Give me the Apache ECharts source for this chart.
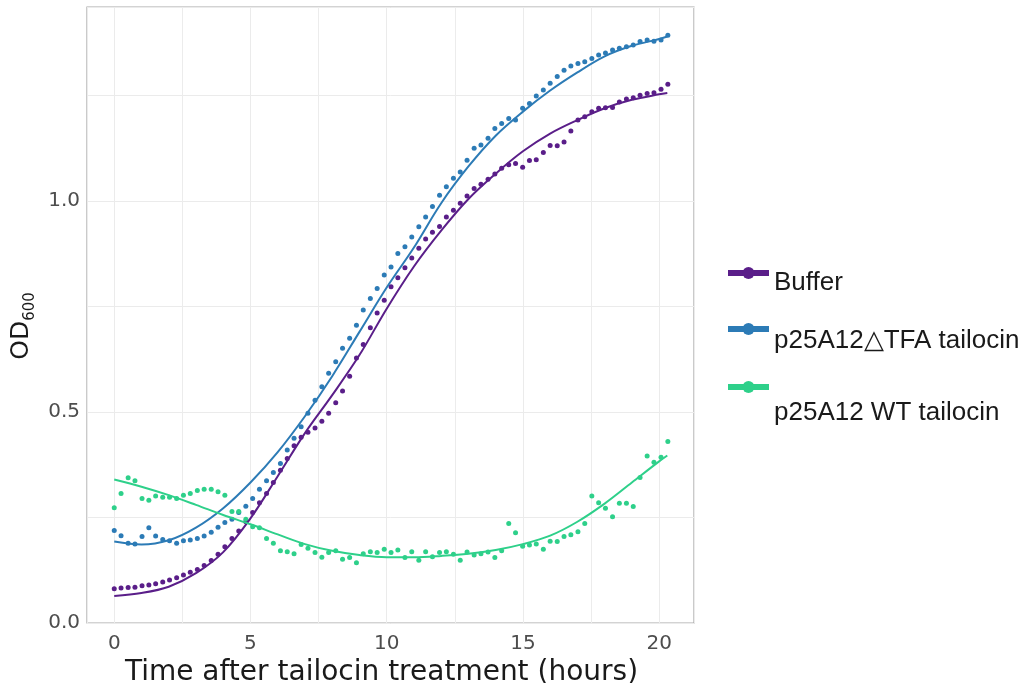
<!DOCTYPE html>
<html>
<head>
<meta charset="utf-8">
<script src="https://cdn.jsdelivr.net/npm/echarts@6/dist/echarts.min.js"></script>
<style>html,body{margin:0;padding:0;background:#fff}#c{width:1033px;height:683px}</style>
</head>
<body>
<div id="c"></div>
<script>
// Measurement times (hours)
var times = [0,0.25,0.51,0.76,1.02,1.27,1.52,1.78,2.03,2.29,2.54,2.79,3.05,3.30,3.56,3.81,4.06,4.32,4.57,4.83,
  5.08,5.33,5.59,5.84,6.10,6.35,6.60,6.86,7.11,7.37,7.62,7.87,8.13,8.38,8.64,8.89,9.14,9.40,9.65,9.91,
  10.16,10.41,10.67,10.92,11.18,11.43,11.68,11.94,12.19,12.45,12.70,12.95,13.21,13.46,13.72,13.97,14.22,14.48,14.73,14.99,
  15.24,15.49,15.75,16.00,16.26,16.51,16.76,17.02,17.27,17.53,17.78,18.03,18.29,18.54,18.80,19.05,19.30,19.56,19.81,20.07,20.32];

var bufferOD = [0.081,0.083,0.084,0.085,0.088,0.090,0.093,0.097,0.102,0.107,0.114,0.120,0.127,0.136,0.148,0.163,0.181,0.200,0.218,0.240,
  0.262,0.285,0.307,0.333,0.362,0.390,0.420,0.440,0.452,0.462,0.478,0.497,0.522,0.550,0.585,0.628,0.660,0.700,0.735,0.765,
  0.797,0.818,0.842,0.865,0.888,0.910,0.926,0.940,0.962,0.978,0.995,1.012,1.030,1.040,1.052,1.064,1.078,1.086,1.089,1.080,
  1.096,1.098,1.115,1.132,1.131,1.140,1.166,1.192,1.200,1.212,1.220,1.221,1.222,1.235,1.242,1.245,1.251,1.255,1.257,1.265,1.277];

var tfaOD = [0.219,0.207,0.189,0.187,0.205,0.226,0.206,0.198,0.195,0.189,0.195,0.197,0.200,0.206,0.215,0.227,0.238,0.246,0.262,0.277,
  0.295,0.317,0.337,0.357,0.378,0.410,0.438,0.465,0.497,0.528,0.560,0.592,0.619,0.651,0.675,0.706,0.742,0.769,0.793,0.825,
  0.844,0.876,0.892,0.915,0.939,0.962,0.987,1.014,1.034,1.054,1.069,1.097,1.125,1.133,1.149,1.172,1.184,1.196,1.192,1.220,
  1.231,1.249,1.263,1.279,1.295,1.310,1.320,1.326,1.330,1.338,1.346,1.351,1.358,1.362,1.366,1.370,1.378,1.382,1.379,1.382,1.393];

var wtOD = [0.273,0.307,0.344,0.337,0.295,0.291,0.301,0.298,0.298,0.295,0.303,0.307,0.314,0.317,0.317,0.311,0.303,0.264,0.264,0.246,
  0.228,0.226,0.200,0.189,0.171,0.169,0.164,0.186,0.177,0.167,0.156,0.167,0.171,0.151,0.155,0.143,0.164,0.169,0.167,0.175,
  0.167,0.173,0.155,0.169,0.149,0.169,0.157,0.167,0.169,0.163,0.149,0.168,0.161,0.164,0.168,0.155,0.171,0.236,0.214,0.182,
  0.185,0.187,0.175,0.194,0.193,0.205,0.209,0.216,0.236,0.301,0.285,0.272,0.252,0.284,0.284,0.276,0.345,0.396,0.381,0.393,0.430];

// Fitted curves (read at whole hours)
var fitTimes = [0,1,2,3,4,5,6,7,8,9,10,11,12,13,14,15,16,17,18,19,20,20.3];
var bufferFit = [0.064,0.071,0.086,0.118,0.168,0.248,0.348,0.450,0.540,0.635,0.745,0.845,0.930,1.005,1.065,1.118,1.160,1.192,1.220,1.240,1.253,1.256];
var tfaFit    = [0.193,0.186,0.196,0.226,0.272,0.333,0.405,0.490,0.585,0.690,0.795,0.890,0.995,1.082,1.155,1.212,1.262,1.305,1.343,1.368,1.384,1.390];
var wtFit     = [0.340,0.323,0.303,0.280,0.256,0.234,0.210,0.187,0.171,0.161,0.156,0.156,0.159,0.164,0.173,0.187,0.207,0.240,0.283,0.333,0.383,0.397];

var seriesNames = ['Buffer', 'p25A12\u25B3TFA tailocin', 'p25A12 WT tailocin'];
var xMinorBreaks = [2.5, 7.5, 12.5, 17.5];
var yLabelTicks = [0, 0.5, 1.0];

var colors = ['#5a1e89', '#2c7bb6', '#2ed08a'];

function pairs(xs, ys) { return xs.map(function (x, i) { return [x, ys[i]]; }); }

var pointsData = [bufferOD, tfaOD, wtOD];
var fitsData = [bufferFit, tfaFit, wtFit];

var series = [];
for (var k = 0; k < 3; k++) {
  series.push({
    name: seriesNames[k], type: 'line', data: pairs(fitTimes, fitsData[k]),
    smooth: 0.35, showSymbol: false, symbol: 'circle', z: 3,
    lineStyle: { color: colors[k], width: 2 }, itemStyle: { color: colors[k] },
    silent: true, animation: false
  });
}
for (var k2 = 0; k2 < 3; k2++) {
  series.push({
    name: seriesNames[k2], type: 'scatter', data: pairs(times, pointsData[k2]),
    symbolSize: 5, itemStyle: { color: colors[k2], opacity: 1 }, z: 2, silent: true, animation: false
  });
}
// minor vertical grid lines
series[0].markLine = {
  silent: true, symbol: ['none', 'none'], label: { show: false }, z: 0,
  lineStyle: { color: '#ececec', width: 1, type: 'solid' },
  data: xMinorBreaks.map(function (v) { return { xAxis: v }; }), animation: false
};

var legendTops = [250, 304, 335];
var legendLH = [20, 24, 52];
var legends = seriesNames.map(function (n, i) {
  return {
    data: [n], left: 725, top: legendTops[i], orient: 'vertical', padding: 0,
    itemWidth: 41, itemHeight: 15, selectedMode: false,
    lineStyle: { width: 6 },
    formatter: function (name) { return '\n' + name; },
    textStyle: { fontFamily: 'Liberation Sans', fontSize: 26, lineHeight: legendLH[i], color: '#1a1a1a' }
  };
});

var chart = echarts.init(document.getElementById('c'), null, { renderer: 'canvas' });
chart.setOption({
  animation: false,
  backgroundColor: '#ffffff',
  legend: legends,
  grid: { left: 87, right: 339, top: 7, bottom: 60, show: true, borderColor: '#a8a8a8', borderWidth: 1.2,
    backgroundColor: 'transparent', containLabel: false, outerBoundsMode: 'none' },
  xAxis: {
    type: 'value', min: -1, max: 21.28, splitNumber: 5,
    name: 'Time after tailocin treatment (hours)', nameLocation: 'middle', nameGap: 28,
    nameTextStyle: { fontFamily: 'DejaVu Sans', fontSize: 28, color: '#1a1a1a', padding: [0, 18, 0, 0] },
    axisLine: { show: false }, axisTick: { show: false },
    axisLabel: { fontFamily: 'DejaVu Sans', fontSize: 20, color: '#4d4d4d', margin: 11, showMinLabel: false, showMaxLabel: false },
    splitLine: { show: true, lineStyle: { color: '#ebebeb', width: 1 } }
  },
  yAxis: {
    type: 'value', min: 0, max: 1.46, interval: 0.25,
    name: '{a|OD}{b|600}', nameLocation: 'middle', nameGap: 42,
    nameTextStyle: { color: '#1a1a1a', padding: [0, 22, 0, 0], rich: {
      a: { fontFamily: 'DejaVu Sans', fontSize: 25, lineHeight: 32, color: '#1a1a1a' },
      b: { fontFamily: 'DejaVu Sans', fontSize: 15, lineHeight: 32, verticalAlign: 'bottom', color: '#1a1a1a' }
    } },
    axisLine: { show: false }, axisTick: { show: false },
    axisLabel: { fontFamily: 'DejaVu Sans', fontSize: 20, color: '#4d4d4d', margin: 7,
      formatter: function (v) {
        for (var i = 0; i < yLabelTicks.length; i++) { if (Math.abs(v - yLabelTicks[i]) < 1e-6) return yLabelTicks[i].toFixed(1); }
        return '';
      } },
    splitLine: { show: true, lineStyle: { color: '#ebebeb', width: 1 } }
  },
  series: series
});
</script>
</body>
</html>
